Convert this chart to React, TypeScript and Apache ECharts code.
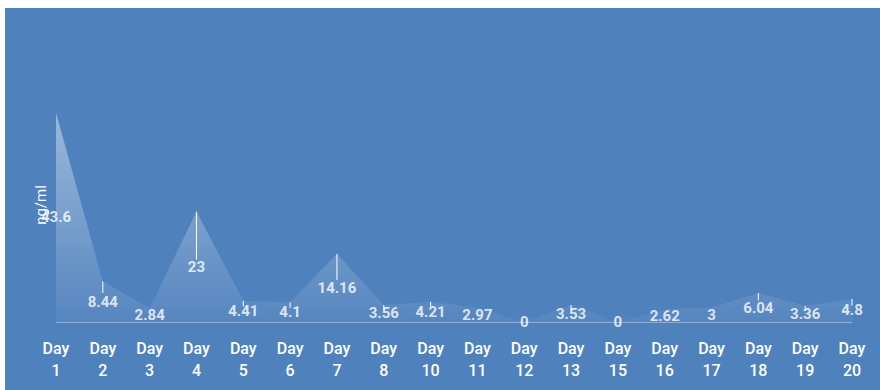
import React, { useEffect, useRef } from "react";
import * as echarts from "echarts";

const categories = ["Day\n1", "Day\n2", "Day\n3", "Day\n4", "Day\n5", "Day\n6", "Day\n7", "Day\n8", "Day\n10", "Day\n11", "Day\n12", "Day\n13", "Day\n15", "Day\n16", "Day\n17", "Day\n18", "Day\n19", "Day\n20"];
const values = [43.6, 8.44, 2.84, 23, 4.41, 4.1, 14.16, 3.56, 4.21, 2.97, 0, 3.53, 0, 2.62, 3, 6.04, 3.36, 4.8];
const errors = [0, 2.4, 0, 10, 1.2, 1.2, 5.4, 1, 1, 0, 0, 1, 0, 0, 0, 1.5, 1, 1.4];
const yAxisName = "ng/ml";

export default function App() {
  const ref = useRef<HTMLDivElement>(null);
  useEffect(() => {
    if (!ref.current) return;
    const chart = echarts.init(ref.current, undefined, { renderer: "svg" });
    const font = "Roboto, 'Liberation Sans', sans-serif";
    chart.setOption({
      animation: false,
      backgroundColor: "#4f81bd",
      grid: { left: 51, right: 28, top: 74, bottom: 68, containLabel: false },
      xAxis: {
        type: "category",
        data: categories,
        boundaryGap: false,
        axisLine: { show: true, lineStyle: { color: "rgba(255,255,255,0.35)", width: 1 } },
        axisTick: { show: false },
        axisLabel: { color: "#ffffff", fontSize: 16, fontWeight: 500, fontFamily: font, lineHeight: 22, margin: 15, interval: 0 },
      },
      yAxis: {
        type: "value",
        min: 0,
        max: 50,
        show: false,
        splitLine: { show: false },
      },
      graphic: [
        {
          type: "text",
          x: 36,
          y: 197,
          rotation: Math.PI / 2,
          style: {
            text: yAxisName,
            fill: "#ffffff",
            font: `15px ${font}`,
            textAlign: "center",
            textVerticalAlign: "middle",
          },
          z: 10,
        },
      ],
      series: [
        {
          type: "line",
          data: values,
          symbol: "none",
          lineStyle: { width: 0 },
          areaStyle: {
            color: new echarts.graphic.LinearGradient(0, 0, 0, 1, [
              { offset: 0, color: "rgba(255,255,255,0.62)" },
              { offset: 1, color: "rgba(255,255,255,0.06)" },
            ]),
          },
          z: 1,
        },
        {
          type: "custom",
          data: values.map((v, i) => [i, v, errors[i]]),
          renderItem: (params: any, api: any) => {
            const i = api.value(0);
            const v = api.value(1);
            const e = api.value(2);
            if (!e) return null;
            const p1 = api.coord([i, v]);
            const p2 = api.coord([i, v - e]);
            return {
              type: "line",
              shape: { x1: p1[0], y1: p1[1], x2: p2[0], y2: p2[1] },
              style: { stroke: "#ffffff", lineWidth: 1 },
            };
          },
          z: 2,
        },
        {
          type: "scatter",
          data: values.map((v, i) => [i, v / 2]),
          symbolSize: 0,
          label: {
            show: true,
            position: "inside",
            formatter: (p: any) => String(values[p.dataIndex]),
            color: "#ffffff",
            fontWeight: "bold",
            fontSize: 15,
            fontFamily: font,
          },
          z: 5,
        },
      ],
    });
    return () => chart.dispose();
  }, []);
  return <div ref={ref} style={{ position: "absolute", left: 5, top: 8, width: 875, height: 382 }} />;
}
